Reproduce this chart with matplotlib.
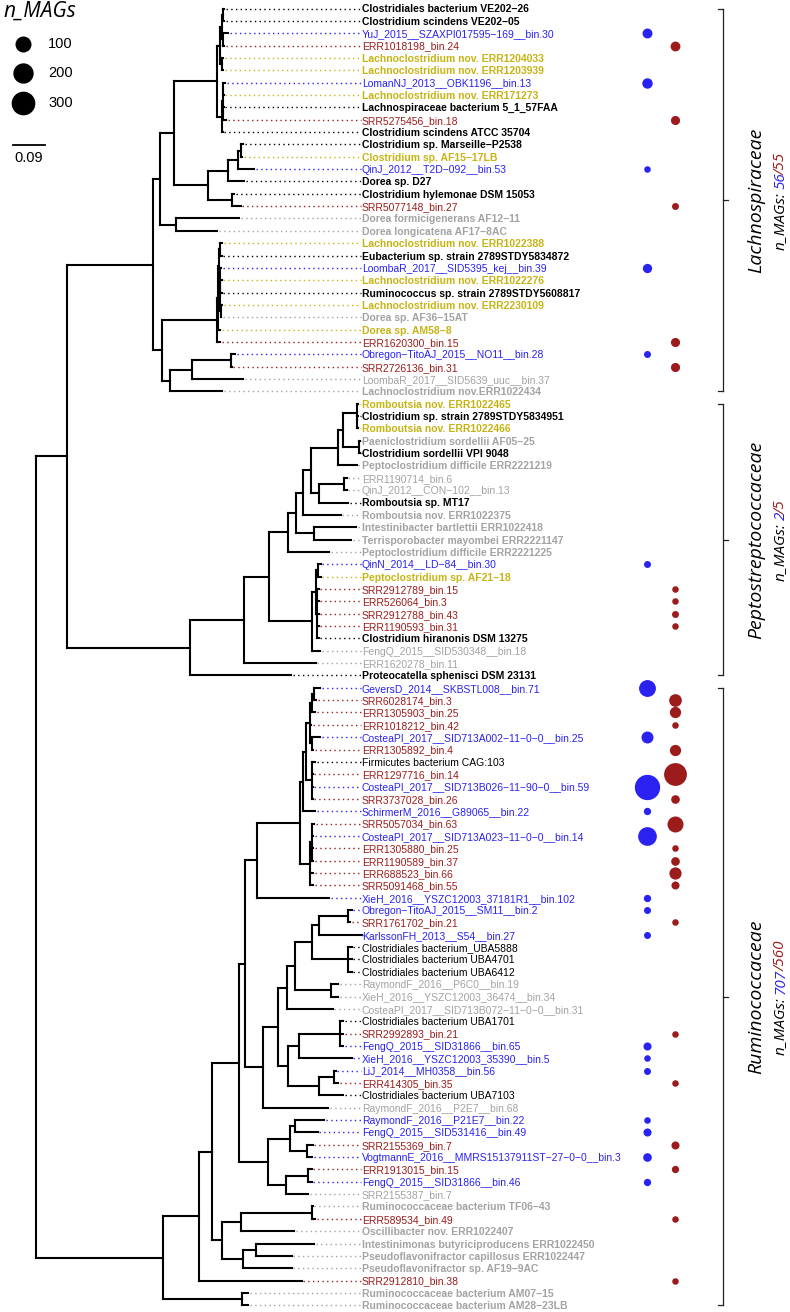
import re
import numpy as np
import matplotlib
matplotlib.use("Agg")
import matplotlib.pyplot as plt
from matplotlib import font_manager as fm
from matplotlib.transforms import IdentityTransform

# ---- tree (branch lengths in substitutions/site), tips named t1..t106 ----
lach_scindens = ("((((t1:0.0028,t2:0.0028):0.0028,(t3:0.0142,t4:0.0028):0.0028):0.0057,"
                 "(t5:0.0028,t6:0.0028):0.0057):0.0094,(((t7:0.0057,t8:0.0014):0.0014,"
                 "(t9:0.0014,t10:0.0085):0.0014):0.0023,t11:0.0023):0.0142)")
lach_dorea = "((((t12:0.0057,t13:0.0028):0.0094,t14:0.0464):0.0285,t15:0.0464):0.0570,(t16:0.0048,t17:0.0239):0.0701)"
lach_lachno = ("((((t20:0.0057,t21:0.0043):0.0028,(t22:0.0043,(t23:0.0043,t24:0.0043,"
               "(t25:0.0043,t26:0.0014):0.0014):0.0014):0.0014):0.0028,t27:0.0057):0.0037,t28:0.0094)")
lach_other = "(((t29:0.0114,t30:0.0020):0.1103,t31:0.1453):0.0635,t32:0.1490)"
pept_rombo = ("(((((((t33:0.0037,(t34:0.0020,t35:0.0020):0.0017):0.0382,(t36:0.0020,t37:0.0020):0.0456):0.0142,"
              "t38:0.0524):0.0778,((t39:0.0068,t40:0.0068):0.0712,t41:0.0826):0.0236):0.0219,t42:0.1066):0.0208,"
              "(t43:0.1197,t44:0.1054):0.0513):0.0236,t45:0.1185)")
pept_hiran = ("(((t46:0.0091,t47:0.0091):0.0051,(t48:0.0043,t49:0.0043,t50:0.0043,t51:0.0051,t52:0.0051):0.0037):0.0114,"
              "t53:0.0236)")
rumi_a = ("((((((t56:0.0179,t57:0.0066):0.0048,t58:0.0085):0.0057,t59:0.0028,(t60:0.0228,t61:0.0028):0.0057):0.0123,"
          "(t62:0.0085,t63:0.0014,t64:0.0014,t65:0.0014):0.0179):0.0068,t66:0.0333):0.0094,"
          "((t67:0.0071,t68:0.0043,t69:0.0043,t70:0.0043):0.0043,t71:0.0094,t72:0.0094):0.0285)")
rumi_b = ("((((((t74:0.0097,t75:0.0048):0.0835,t76:0.1217):0.0208,(t77:0.0097,t78:0.0097,t79:0.0097):0.1043):0.0476,"
          "(t80:0.0208,t81:0.0208):0.1026):0.0236,t82:0.1311):0.0239,(((t83:0.0094,t84:0.0094,t85:0.0094):0.1168,"
          "t86:0.1501):0.0305,((t87:0.0034,t88:0.0114):0.0436,t89:0.0692):0.0875):0.0285)")
rumi_c = ("(((t91:0.0835,t92:0.0647):0.0142,(t93:0.0148,t94:0.0142):0.0493):0.0635,"
          "((t95:0.0114,t96:0.0114):0.0618,t97:0.0635):0.0521)")
rumi_d = ("(((t98:0.0023,t99:0.0094):0.2014,t100:0.1510):0.0533,((t101:0.1652,t102:0.1017):0.0379,"
          "t103:0.1396):0.0581)")

lach = f"(({lach_scindens}:0.1208,{lach_dorea}:0.0952):0.0407,(t18:0.1803,t19:0.1185):0.0447)"
lach = f"({lach}:0.0191,({lach_lachno}:0.1567,{lach_other}:0.0236):0.0239)"
pept = f"((({pept_rombo}:0.0541,{pept_hiran}:0.1225):0.0695,t54:0.2034):0.1547,t55:0.2877)"
rumi = f"((({rumi_a}:0.1217,t73:0.2051):0.0350,({rumi_b}:0.0427,t90:0.1852):0.0521):0.0171,{rumi_c}:0.0818)"
rumi = f"((({rumi}:0.0778,{rumi_d}:0.0302):0.0353,t104:0.2917):0.1034,(t105:0.0188,t106:0.0188):0.2242)"
newick = f"(({lach}:0.2467,{pept}:0.3513):0.0875,{rumi}:0.3618);"

tip_labels = [
    "Clostridiales bacterium VE202-26", "Clostridium scindens VE202-05", "YuJ_2015__SZAXPI017595-169__bin.30",
    "ERR1018198_bin.24", "Lachnoclostridium nov. ERR1204033", "Lachnoclostridium nov. ERR1203939",
    "LomanNJ_2013__OBK1196__bin.13", "Lachnoclostridium nov. ERR171273", "Lachnospiraceae bacterium 5_1_57FAA",
    "SRR5275456_bin.18", "Clostridium scindens ATCC 35704", "Clostridium sp. Marseille-P2538",
    "Clostridium sp. AF15-17LB", "QinJ_2012__T2D-092__bin.53", "Dorea sp. D27",
    "Clostridium hylemonae DSM 15053", "SRR5077148_bin.27", "Dorea formicigenerans AF12-11",
    "Dorea longicatena AF17-8AC", "Lachnoclostridium nov. ERR1022388", "Eubacterium sp. strain 2789STDY5834872",
    "LoombaR_2017__SID5395_kej__bin.39", "Lachnoclostridium nov. ERR1022276", "Ruminococcus sp. strain 2789STDY5608817",
    "Lachnoclostridium nov. ERR2230109", "Dorea sp. AF36-15AT", "Dorea sp. AM58-8",
    "ERR1620300_bin.15", "Obregon-TitoAJ_2015__NO11__bin.28", "SRR2726136_bin.31",
    "LoombaR_2017__SID5639_uuc__bin.37", "Lachnoclostridium nov.ERR1022434",
    "Romboutsia nov. ERR1022465", "Clostridium sp. strain 2789STDY5834951", "Romboutsia nov. ERR1022466",
    "Paeniclostridium sordellii AF05-25", "Clostridium sordellii VPI 9048", "Peptoclostridium difficile ERR2221219",
    "ERR1190714_bin.6", "QinJ_2012__CON-102__bin.13", "Romboutsia sp. MT17",
    "Romboutsia nov. ERR1022375", "Intestinibacter bartlettii ERR1022418", "Terrisporobacter mayombei ERR2221147",
    "Peptoclostridium difficile ERR2221225", "QinN_2014__LD-84__bin.30", "Peptoclostridium sp. AF21-18",
    "SRR2912789_bin.15", "ERR526064_bin.3", "SRR2912788_bin.43",
    "ERR1190593_bin.31", "Clostridium hiranonis DSM 13275", "FengQ_2015__SID530348__bin.18",
    "ERR1620278_bin.11", "Proteocatella sphenisci DSM 23131",
    "GeversD_2014__SKBSTL008__bin.71", "SRR6028174_bin.3", "ERR1305903_bin.25",
    "ERR1018212_bin.42", "CosteaPI_2017__SID713A002-11-0-0__bin.25", "ERR1305892_bin.4",
    "Firmicutes bacterium CAG:103", "ERR1297716_bin.14", "CosteaPI_2017__SID713B026-11-90-0__bin.59",
    "SRR3737028_bin.26", "SchirmerM_2016__G89065__bin.22", "SRR5057034_bin.63",
    "CosteaPI_2017__SID713A023-11-0-0__bin.14", "ERR1305880_bin.25", "ERR1190589_bin.37",
    "ERR688523_bin.66", "SRR5091468_bin.55", "XieH_2016__YSZC12003_37181R1__bin.102",
    "Obregon-TitoAJ_2015__SM11__bin.2", "SRR1761702_bin.21", "KarlssonFH_2013__S54__bin.27",
    "Clostridiales bacterium_UBA5888", "Clostridiales bacterium UBA4701", "Clostridiales bacterium UBA6412",
    "RaymondF_2016__P6C0__bin.19", "XieH_2016__YSZC12003_36474__bin.34", "CosteaPI_2017__SID713B072-11-0-0__bin.31",
    "Clostridiales bacterium UBA1701", "SRR2992893_bin.21", "FengQ_2015__SID31866__bin.65",
    "XieH_2016__YSZC12003_35390__bin.5", "LiJ_2014__MH0358__bin.56", "ERR414305_bin.35",
    "Clostridiales bacterium UBA7103", "RaymondF_2016__P2E7__bin.68", "RaymondF_2016__P21E7__bin.22",
    "FengQ_2015__SID531416__bin.49", "SRR2155369_bin.7", "VogtmannE_2016__MMRS15137911ST-27-0-0__bin.3",
    "ERR1913015_bin.15", "FengQ_2015__SID31866__bin.46", "SRR2155387_bin.7",
    "Ruminococcaceae bacterium TF06-43", "ERR589534_bin.49", "Oscillibacter nov. ERR1022407",
    "Intestinimonas butyriciproducens ERR1022450", "Pseudoflavonifractor capillosus ERR1022447",
    "Pseudoflavonifractor sp. AF19-9AC", "SRR2912810_bin.38", "Ruminococcaceae bacterium AM07-15",
    "Ruminococcaceae bacterium AM28-23LB",
]

# iso = isolate genome, nov = novel species, gen = other genome, A / B = MAG sets, oth = other MAG, uba = UBA genome
tip_kind = (
    "iso iso A B nov nov A nov iso B iso iso nov A iso iso B gen gen nov iso A nov iso nov gen nov B A B oth gen "
    "nov iso nov gen iso gen oth oth iso gen gen gen gen A nov B B B B iso oth oth iso "
    "A B B B A B uba B A B A B A B B B B A A B A uba uba uba oth oth oth uba B A A A B uba oth "
    "A A B A B A oth gen B gen gen gen gen B gen gen"
).split()

mags_a = {"YuJ_2015__SZAXPI017595-169__bin.30": 18, "LomanNJ_2013__OBK1196__bin.13": 22,
          "QinJ_2012__T2D-092__bin.53": 1, "LoombaR_2017__SID5395_kej__bin.39": 13,
          "Obregon-TitoAJ_2015__NO11__bin.28": 2, "QinN_2014__LD-84__bin.30": 2,
          "GeversD_2014__SKBSTL008__bin.71": 117, "CosteaPI_2017__SID713A002-11-0-0__bin.25": 38,
          "CosteaPI_2017__SID713B026-11-90-0__bin.59": 356, "SchirmerM_2016__G89065__bin.22": 3,
          "CosteaPI_2017__SID713A023-11-0-0__bin.14": 158, "XieH_2016__YSZC12003_37181R1__bin.102": 3,
          "Obregon-TitoAJ_2015__SM11__bin.2": 2, "KarlssonFH_2013__S54__bin.27": 2,
          "FengQ_2015__SID31866__bin.65": 6, "XieH_2016__YSZC12003_35390__bin.5": 1,
          "LiJ_2014__MH0358__bin.56": 2, "RaymondF_2016__P21E7__bin.22": 1,
          "FengQ_2015__SID531416__bin.49": 6, "VogtmannE_2016__MMRS15137911ST-27-0-0__bin.3": 9,
          "FengQ_2015__SID31866__bin.46": 3}
mags_b = {"ERR1018198_bin.24": 17, "SRR5275456_bin.18": 12, "SRR5077148_bin.27": 2, "ERR1620300_bin.15": 12,
          "SRR2726136_bin.31": 12, "SRR2912789_bin.15": 1, "ERR526064_bin.3": 1, "SRR2912788_bin.43": 2,
          "ERR1190593_bin.31": 1, "SRR6028174_bin.3": 47, "ERR1305903_bin.25": 30, "ERR1018212_bin.42": 1,
          "ERR1305892_bin.4": 30, "ERR1297716_bin.14": 272, "SRR3737028_bin.26": 9, "SRR5057034_bin.63": 100,
          "ERR1305880_bin.25": 1, "ERR1190589_bin.37": 9, "ERR688523_bin.66": 41, "SRR5091468_bin.55": 6,
          "SRR1761702_bin.21": 1, "SRR2992893_bin.21": 1, "ERR414305_bin.35": 1, "SRR2155369_bin.7": 6,
          "ERR1913015_bin.15": 3, "ERR589534_bin.49": 1, "SRR2912810_bin.38": 1}

families = ["Lachnospiraceae", "Peptostreptococcaceae", "Ruminococcaceae"]
family_first = [1, 33, 56]
family_last = [32, 55, 106]
family_mags_a = [56, 2, 707]
family_mags_b = [55, 5, 560]
legend_values = [100, 200, 300]
scale_value = 0.09

# ---- styles ----
BLUE, RED, YEL, GREY = "#2a22f0", "#9c1c1c", "#c6b415", "#a3a3a3"
kind_color = {"iso": "black", "nov": YEL, "gen": GREY, "A": BLUE, "B": RED, "oth": GREY, "uba": "black"}
kind_bold = {"iso": True, "nov": True, "gen": True, "A": False, "B": False, "oth": False, "uba": False}

plt.rcParams['font.family'] = ['Liberation Sans', 'DejaVu Sans']
ITAL = ['Open Sans', 'DejaVu Sans']

W, H = 790, 1312
PX = 0.09 / 31.6           # tree units per pixel
ROOT_PX, ROW0, ROW = 36, 8.5, 12.35


def fx(px):
    return (px - ROOT_PX) * PX


def fy(py):
    return (py - ROW0) / ROW


def dot_size(v):
    d = 5.5 + 1.05 * np.sqrt(v)   # diameter in px
    return (d * 0.72) ** 2


def parse_newick(s):
    s = s.strip().rstrip(';')
    pos = 0

    def read():
        nonlocal pos
        kids = []
        if s[pos] == '(':
            pos += 1
            kids.append(read())
            while s[pos] == ',':
                pos += 1
                kids.append(read())
            pos += 1
        m = re.match(r"([^:,();]*)(?::([-0-9.eE]+))?", s[pos:])
        pos += m.end()
        return {'name': m.group(1), 'bl': float(m.group(2) or 0), 'kids': kids}
    return read()


tree = parse_newick(newick)
tips, segs = [], []


def layout(node, x0):
    x = x0 + node['bl']
    node['x'] = x
    if not node['kids']:
        node['y'] = len(tips)
        tips.append(node)
    else:
        ys = [layout(k, x) for k in node['kids']]
        node['y'] = (ys[0] + ys[-1]) / 2
        segs.append(([x, x], [ys[0], ys[-1]]))
    if x > x0:
        segs.append(([x0, x], [node['y'], node['y']]))
    return node['y']


layout(tree, 0.0)

fig = plt.figure(figsize=(W / 100, H / 100), dpi=100)
ax = fig.add_axes([0, 0, 1, 1])
ax.axis('off')
ax.set_xlim(fx(0), fx(W))
ax.set_ylim(fy(H), fy(0))

for xs, ys in segs:
    ax.plot(xs, ys, color='black', lw=1.5, solid_capstyle='projecting', zorder=3)

LABEL_X = fx(362)
COL_A, COL_B = fx(646.7), fx(675)
for tip in tips:
    i = int(tip['name'][1:]) - 1
    lab, kind = tip_labels[i], tip_kind[i]
    col = kind_color[kind]
    y = tip['y']
    ax.plot([tip['x'] + 1.5 * PX, LABEL_X - 1.0 * PX], [y, y], color=col, lw=1.0,
            ls=(0, (1, 2.4)), zorder=2)
    ax.text(LABEL_X, y, lab.replace('-', '\u2212'), fontsize=7.5, color=col,
            fontweight='bold' if kind_bold[kind] else 'normal', ha='left', va='center_baseline')
    if lab in mags_a:
        ax.scatter(COL_A, y, s=dot_size(mags_a[lab]), color=BLUE, lw=0, zorder=4)
    if lab in mags_b:
        ax.scatter(COL_B, y, s=dot_size(mags_b[lab]), color=RED, lw=0, zorder=4)

# legend
ax.text(fx(3), fy(11), "n_MAGs", fontsize=15, style='italic', family=ITAL, ha='left', va='center')
for v, py in zip(legend_values, [44, 73, 103]):
    ax.scatter(fx(23), fy(py), s=dot_size(v), color='black', lw=0)
    ax.text(fx(48), fy(py), str(v), fontsize=10.5, ha='left', va='center')

# scale bar
ax.plot([fx(13), fx(13) + scale_value], [fy(145), fy(145)], color='black', lw=1.3)
ax.text(fx(13) + scale_value / 2, fy(158), f"{scale_value:g}", fontsize=10.5, ha='center', va='center')

# family brackets
fig.canvas.draw()
rend = fig.canvas.get_renderer()
NSIZE = 11
tkw = dict(fontsize=NSIZE, style='italic', family=ITAL)
ital_font = fm.get_font(fm.findfont(fm.FontProperties(family=ITAL, style='italic')))

BX = fx(722.5)
for name, a, b, na, nb in zip(families, family_first, family_last, family_mags_a, family_mags_b):
    y0 = tips[a - 1]['y']
    y1 = tips[b - 1]['y']
    ym = (y0 + y1) / 2
    kw = dict(color='#222222', lw=0.9)
    ax.plot([BX, BX], [y0, y1], **kw)
    ax.plot([fx(717.5), BX], [y0, y0], **kw)
    ax.plot([fx(717.5), BX], [y1, y1], **kw)
    ax.plot([BX, fx(728)], [ym, ym], **kw)
    ax.text(fx(756), ym, name, rotation=90, fontsize=14, style='italic',
            family=ITAL, ha='center', va='center')
    # multi-coloured line: each piece placed at its pen position inside the full string
    parts = [("n_MAGs: ", 'black'), (str(na), BLUE), ("/" + str(nb), RED)]
    nudge = [0.0, 0.0, -2.5]     # italic slash overhangs the preceding digit
    full = "".join(p for p, _ in parts)
    t = fig.text(0, 0, full, **tkw)
    total = t.get_window_extent(rend).width
    t.remove()
    ital_font.set_size(NSIZE, 100)
    pens = np.asarray(ital_font.set_text(full, 0.0))[:, 0] / 64.0
    xd, yd = ax.transData.transform((fx(779), ym))
    start = yd - total / 2
    idx = 0
    for (txt, col), dn in zip(parts, nudge):
        fig.text(xd, start + pens[idx] - pens[0] + dn, txt, color=col, rotation=90, rotation_mode='anchor',
                 ha='left', va='center_baseline', transform=IdentityTransform(), **tkw)
        idx += len(txt)

fig.savefig("out.png", dpi=100)
